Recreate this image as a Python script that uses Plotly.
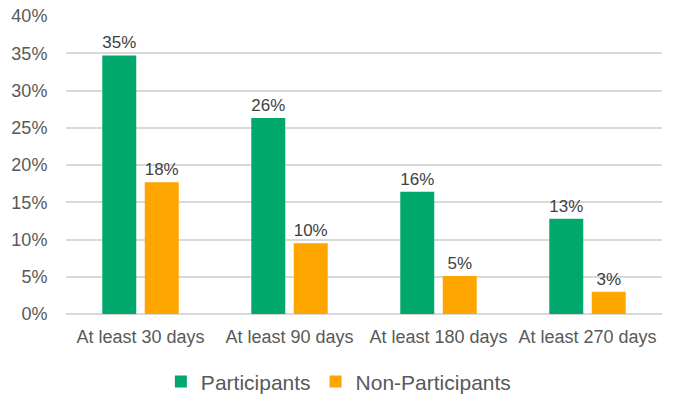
import plotly.graph_objects as go

categories = ["At least 30 days", "At least 90 days", "At least 180 days", "At least 270 days"]
participants = [0.347, 0.263, 0.164, 0.128]
non_participants = [0.177, 0.095, 0.051, 0.030]
y_ticks = [0, 0.05, 0.10, 0.15, 0.20, 0.25, 0.30, 0.35, 0.40]

font_family = "Liberation Sans, Arial, sans-serif"

fig = go.Figure()
fig.add_trace(go.Bar(
    name="Participants", x=categories, y=participants,
    marker=dict(color="#00A86B", line=dict(width=0)),
    texttemplate="%{y:.0%}", textposition="outside",
    textfont=dict(family=font_family, size=17, color="#404040"),
    cliponaxis=False,
))
fig.add_trace(go.Bar(
    name="Non-Participants", x=categories, y=non_participants,
    marker=dict(color="#FFA500", line=dict(width=0)),
    texttemplate="%{y:.0%}", textposition="outside",
    textfont=dict(family=font_family, size=17, color="#404040"),
    cliponaxis=False,
))

fig.update_layout(
    width=673, height=396,
    margin=dict(l=66, r=11, t=16, b=82, autoexpand=False),
    paper_bgcolor="white", plot_bgcolor="white",
    barmode="group", bargap=0.43, bargroupgap=0.2,
    font=dict(family=font_family, size=18, color="#595959"),
    showlegend=True,
    legend=dict(
        orientation="h", x=0.457, xanchor="center", y=-0.228, yanchor="middle",
        font=dict(family=font_family, size=21, color="#595959"),
        itemwidth=30, traceorder="normal",
    ),
)
fig.update_xaxes(
    showgrid=False, showline=False, zeroline=False,
    ticks="outside", ticklen=6, tickcolor="rgba(0,0,0,0)",
    tickfont=dict(family=font_family, size=18, color="#595959"),
)
fig.update_yaxes(
    range=[0, 0.40], tickvals=y_ticks, tickformat=".0%",
    showgrid=True, gridcolor="#D9D9D9", gridwidth=1.5,
    zeroline=True, zerolinecolor="#D9D9D9", zerolinewidth=1.5,
    showline=False,
    ticks="outside", ticklen=14, tickcolor="rgba(0,0,0,0)",
    tickfont=dict(family=font_family, size=18, color="#595959"),
)

fig.write_html("out.html")
